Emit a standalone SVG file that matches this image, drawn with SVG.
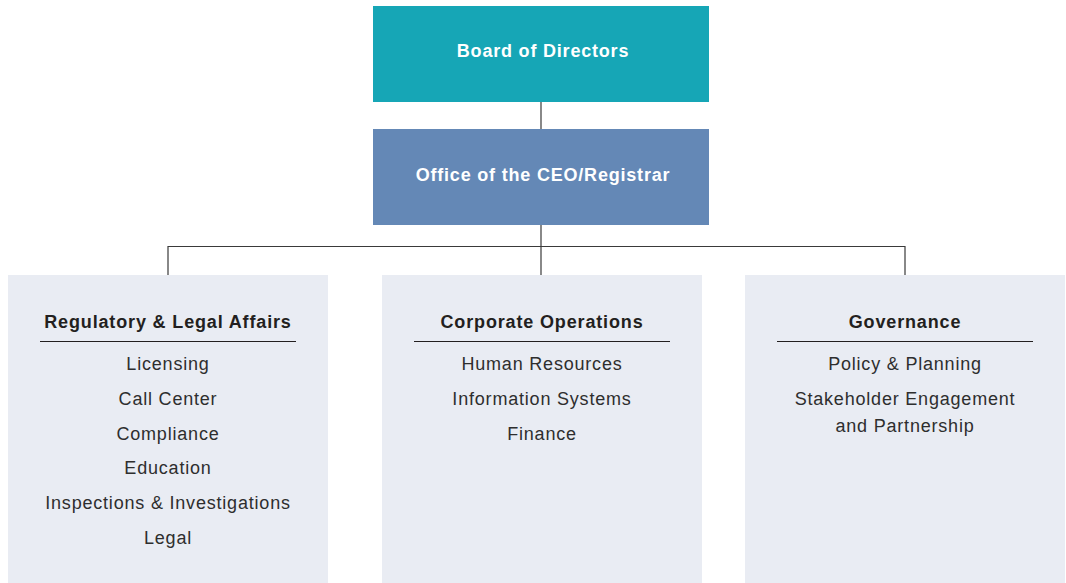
<svg xmlns="http://www.w3.org/2000/svg" width="1066" height="583" viewBox="0 0 1066 583">
  <style>
    .top { font-family: "Liberation Sans", Arial, sans-serif; font-size: 18px; font-weight: bold; letter-spacing: 0.8px; fill: #ffffff; text-anchor: middle; }
    .head { font-family: "Liberation Sans", Arial, sans-serif; font-size: 18px; font-weight: bold; letter-spacing: 0.85px; fill: #231f20; text-anchor: middle; }
    .item { font-family: "Liberation Sans", Arial, sans-serif; font-size: 18px; letter-spacing: 0.8px; fill: #2e2e2e; text-anchor: middle; }
    .panel { fill: #e9ecf3; }
    .rule { stroke: #231f20; stroke-width: 1; }
    .conn { fill: none; stroke: #3a3a3a; stroke-width: 1.2; }
  </style>
  <rect width="1066" height="583" fill="#ffffff"/>

  <!-- connectors -->
  <g id="connectors">
    <line class="conn" x1="541" y1="102" x2="541" y2="129"/>
    <line class="conn" x1="541" y1="225" x2="541" y2="275"/>
    <polyline class="conn" points="168,275 168,246.5 905,246.5 905,275"/>
  </g>

  <g id="board">
    <rect x="373" y="6" width="336" height="96" fill="#16a6b6"/>
    <text class="top" x="543" y="56.5">Board of Directors</text>
  </g>

  <g id="ceo">
    <rect x="373" y="129" width="336" height="96" fill="#6488b6"/>
    <text class="top" x="543" y="180.5">Office of the CEO/Registrar</text>
  </g>

  <g id="regulatory">
    <rect class="panel" x="8" y="275" width="320" height="308"/>
    <text class="head" x="168" y="328">Regulatory &amp; Legal Affairs</text>
    <line class="rule" x1="40" y1="341.5" x2="296" y2="341.5"/>
    <text class="item" x="168" y="369.5">Licensing</text>
    <text class="item" x="168" y="404.5">Call Center</text>
    <text class="item" x="168" y="439.5">Compliance</text>
    <text class="item" x="168" y="473.5">Education</text>
    <text class="item" x="168" y="508.5">Inspections &amp; Investigations</text>
    <text class="item" x="168" y="543.5">Legal</text>
  </g>

  <g id="corporate">
    <rect class="panel" x="382" y="275" width="320" height="308"/>
    <text class="head" x="542" y="328">Corporate Operations</text>
    <line class="rule" x1="414" y1="341.5" x2="670" y2="341.5"/>
    <text class="item" x="542" y="369.5">Human Resources</text>
    <text class="item" x="542" y="404.5">Information Systems</text>
    <text class="item" x="542" y="439.5">Finance</text>
  </g>

  <g id="governance">
    <rect class="panel" x="745" y="275" width="320" height="308"/>
    <text class="head" x="905" y="328">Governance</text>
    <line class="rule" x1="777" y1="341.5" x2="1033" y2="341.5"/>
    <text class="item" x="905" y="369.5">Policy &amp; Planning</text>
    <text class="item" x="905" y="404.5">Stakeholder Engagement</text>
    <text class="item" x="905" y="431.5">and Partnership</text>
  </g>
</svg>
